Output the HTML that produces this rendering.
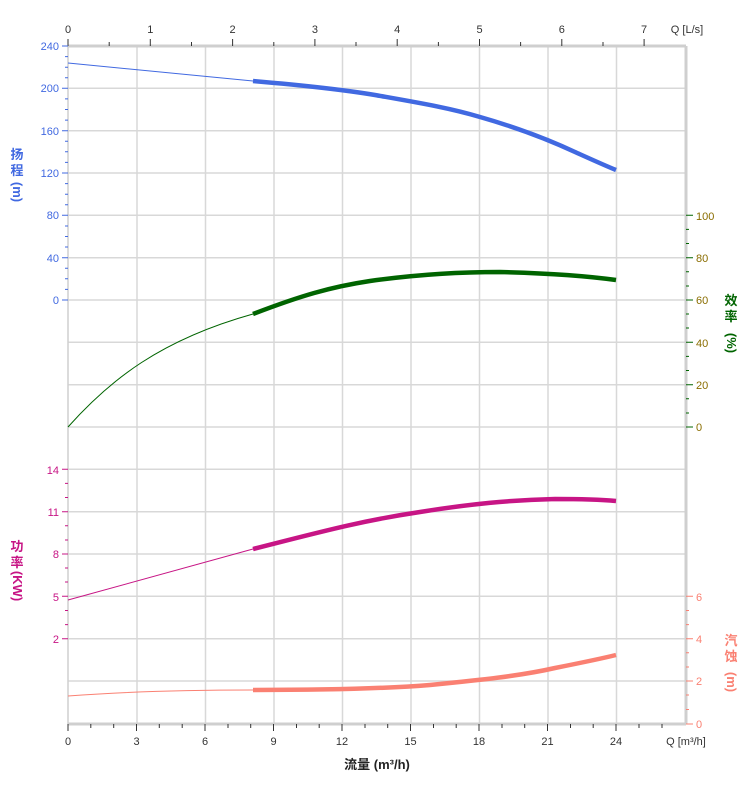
<!DOCTYPE html>
<html><head><meta charset="utf-8"><style>
body{margin:0;background:#fff}
svg{display:block;font-family:"Liberation Sans","Noto Sans CJK SC",sans-serif}
</style></head><body>
<svg width="752" height="797" viewBox="0 0 752 797">
<g stroke="#d8d8d8" stroke-width="1.5">
<line x1="137" y1="46" x2="137" y2="724"/><line x1="205.5" y1="46" x2="205.5" y2="724"/><line x1="274" y1="46" x2="274" y2="724"/><line x1="342.5" y1="46" x2="342.5" y2="724"/><line x1="411" y1="46" x2="411" y2="724"/><line x1="479.5" y1="46" x2="479.5" y2="724"/><line x1="548" y1="46" x2="548" y2="724"/><line x1="616.5" y1="46" x2="616.5" y2="724"/>
<line x1="68" y1="88.3" x2="686" y2="88.3"/><line x1="68" y1="130.7" x2="686" y2="130.7"/><line x1="68" y1="173" x2="686" y2="173"/><line x1="68" y1="215.3" x2="686" y2="215.3"/><line x1="68" y1="257.7" x2="686" y2="257.7"/><line x1="68" y1="300" x2="686" y2="300"/><line x1="68" y1="342.3" x2="686" y2="342.3"/><line x1="68" y1="384.7" x2="686" y2="384.7"/><line x1="68" y1="427" x2="686" y2="427"/><line x1="68" y1="469.3" x2="686" y2="469.3"/><line x1="68" y1="511.7" x2="686" y2="511.7"/><line x1="68" y1="554" x2="686" y2="554"/><line x1="68" y1="596.3" x2="686" y2="596.3"/><line x1="68" y1="638.7" x2="686" y2="638.7"/><line x1="68" y1="681" x2="686" y2="681"/>
</g>
<g stroke="#cfcfcf" stroke-width="3"><line x1="68" y1="46" x2="686" y2="46"/><line x1="68" y1="724" x2="686" y2="724"/><line x1="686" y1="46" x2="686" y2="724"/></g>
<line x1="68" y1="46" x2="68" y2="724" stroke="#cfcfcf" stroke-width="1.5"/>
<!-- top ticks -->
<g stroke="#333" stroke-width="1">
<path d="M68 46v-7M150.3 46v-7M232.6 46v-7M314.9 46v-7M397.2 46v-7M479.5 46v-7M561.8 46v-7M644.1 46v-7M109.2 46v-4M191.5 46v-4M273.8 46v-4M356 46v-4M438.4 46v-4M520.6 46v-4M603 46v-4"/>
<path d="M68 724v7M136.5 724v7M205 724v7M273.5 724v7M342 724v7M410.5 724v7M479 724v7M547.5 724v7M616 724v7M90.8 724v4M113.7 724v4M159.3 724v4M182.2 724v4M228 724v4M250.7 724v4M296.5 724v4M319.2 724v4M365 724v4M387.7 724v4M433.5 724v4M456.2 724v4M502 724v4M524.7 724v4M570.5 724v4M593.2 724v4M639 724v4M662 724v4"/>
</g>
<g font-size="11" fill="#333" text-anchor="middle">
<text x="68" y="33">0</text><text x="150.3" y="33">1</text><text x="232.6" y="33">2</text><text x="314.9" y="33">3</text><text x="397.2" y="33">4</text><text x="479.5" y="33">5</text><text x="561.8" y="33">6</text><text x="644.1" y="33">7</text><text x="687" y="33">Q [L/s]</text>
<text x="68" y="745">0</text><text x="136.5" y="745">3</text><text x="205" y="745">6</text><text x="273.5" y="745">9</text><text x="342" y="745">12</text><text x="410.5" y="745">15</text><text x="479" y="745">18</text><text x="547.5" y="745">21</text><text x="616" y="745">24</text><text x="686" y="745">Q [m³/h]</text>
</g>
<text x="377" y="769" font-size="13" font-weight="bold" text-anchor="middle" fill="#222">流量 (m³/h)</text>
<!-- head axis -->
<g stroke="#4169e1"><path d="M62 46h6M62 88.3h6M62 130.7h6M62 173h6M62 215.3h6M62 257.7h6M62 300h6M65 56.6h3M65 67.2h3M65 77.7h3M65 98.9h3M65 109.5h3M65 120.1h3M65 141.3h3M65 151.8h3M65 162.4h3M65 183.6h3M65 194.2h3M65 204.7h3M65 226h3M65 236.5h3M65 247h3M65 268.2h3M65 278.8h3M65 289.4h3"/></g>
<g font-size="11" fill="#4169e1" text-anchor="end"><text x="59" y="50">240</text><text x="59" y="92">200</text><text x="59" y="135">160</text><text x="59" y="177">120</text><text x="59" y="219">80</text><text x="59" y="262">40</text><text x="59" y="304">0</text></g>
<g font-size="13" font-weight="bold" fill="#4169e1" text-anchor="middle"><text x="17" y="159">扬</text><text x="17" y="175">程</text><text x="17" y="196" transform="rotate(90 17 192)">(m)</text></g>
<!-- power axis -->
<g stroke="#c71585"><path d="M62 469.3h6M62 511.7h6M62 554h6M62 596.3h6M62 638.7h6M65 483.4h3M65 497.5h3M65 525.8h3M65 540h3M65 568h3M65 582h3M65 610.5h3M65 624.6h3"/></g>
<g font-size="11" fill="#c71585" text-anchor="end"><text x="59" y="474">14</text><text x="59" y="516">11</text><text x="59" y="558">8</text><text x="59" y="601">5</text><text x="59" y="643">2</text></g>
<g font-size="13" font-weight="bold" fill="#c71585" text-anchor="middle"><text x="17" y="551">功</text><text x="17" y="567">率</text><text x="17" y="590" transform="rotate(90 17 586)">(KW)</text></g>
<!-- efficiency axis -->
<g stroke="#006400"><path d="M686 215.3h7M686 257.7h7M686 300h7M686 342.3h7M686 384.7h7M686 427h7M686 229.4h3M686 243.5h3M686 271.8h3M686 286h3M686 314h3M686 328h3M686 356.4h3M686 370.5h3M686 398.8h3M686 413h3"/></g>
<g font-size="11" fill="#8a6d00"><text x="696" y="220">100</text><text x="696" y="262">80</text><text x="696" y="304">60</text><text x="696" y="347">40</text><text x="696" y="389">20</text><text x="696" y="431">0</text></g>
<g font-size="13" font-weight="bold" fill="#006400" text-anchor="middle"><text x="731" y="305">效</text><text x="731" y="321">率</text><text x="731" y="347" transform="rotate(90 731 343)">(%)</text></g>
<!-- npsh axis -->
<g stroke="#fa8072"><path d="M686 596.3h7M686 638.7h7M686 681h7M686 724h7M686 610.5h3M686 624.6h3M686 652.8h3M686 667h3M686 695h3M686 709.5h3"/></g>
<g font-size="11" fill="#fa8072"><text x="696" y="601">6</text><text x="696" y="643">4</text><text x="696" y="685">2</text><text x="696" y="728">0</text></g>
<g font-size="13" font-weight="bold" fill="#fa8072" text-anchor="middle"><text x="731" y="645">汽</text><text x="731" y="661">蚀</text><text x="731" y="686" transform="rotate(90 731 682)">(m)</text></g>
<!-- curves -->
<g fill="none" stroke-linecap="butt" stroke-linejoin="round">
<path d="M68 63L253 81" stroke="#4169e1" stroke-width="1"/>
<path d="M253 81C300 85 340 89 375 95C420 103 450 108 480 117C515 127 545 138 575 152C595 161 606 166 616 170" stroke="#4169e1" stroke-width="4.5"/>
<path d="M68 427C110 380 160 340 253 314" stroke="#006400" stroke-width="1"/>
<path d="M253 314C300 296 330 287 370 281C420 274 460 272 500 272C540 273 580 275 616 280" stroke="#006400" stroke-width="4.5"/>
<path d="M68 600L253 549" stroke="#c71585" stroke-width="1"/>
<path d="M253 549C320 532 360 521 420 512C470 504 510 500 555 499C590 499 605 500 616 501" stroke="#c71585" stroke-width="4.5"/>
<path d="M68 696C120 692 180 690 253 690" stroke="#fa8072" stroke-width="1"/>
<path d="M253 690C320 690 380 689 430 685C480 680 520 676 555 668C585 662 600 659 616 655" stroke="#fa8072" stroke-width="4.5"/>
</g>
</svg>
</body></html>
